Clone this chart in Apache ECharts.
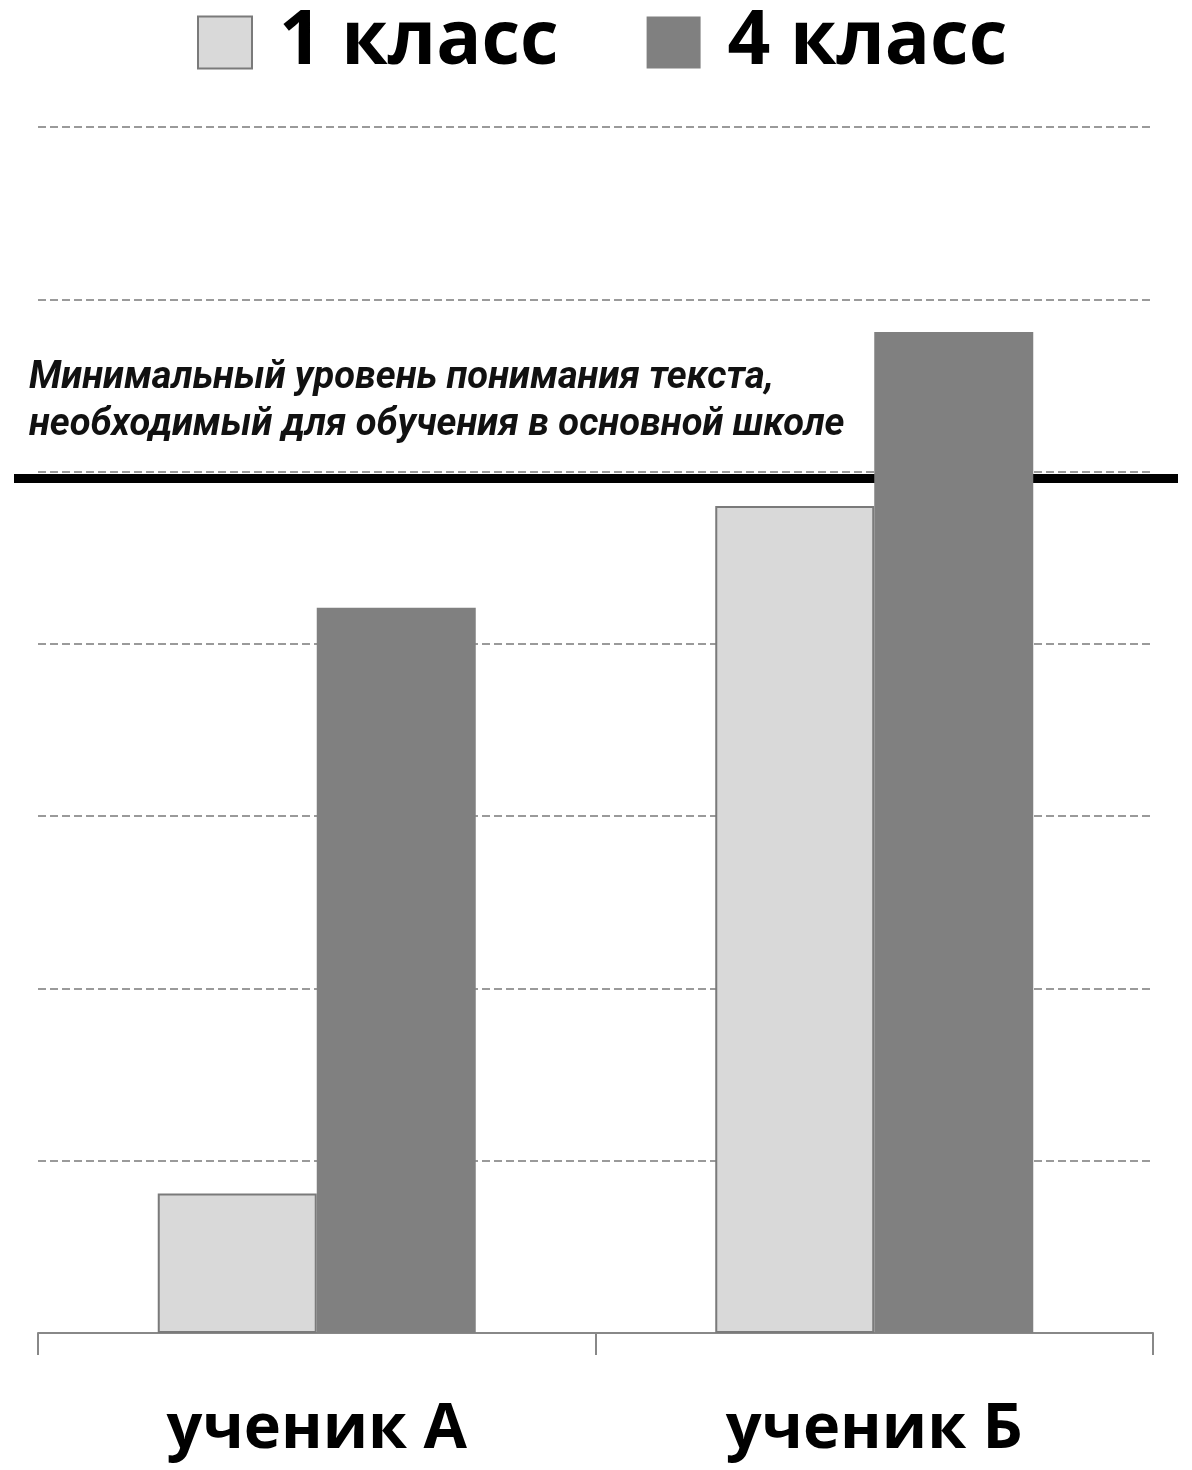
<!DOCTYPE html>
<html><head><meta charset="utf-8">
<script src="https://cdn.jsdelivr.net/npm/echarts@6/dist/echarts.min.js"></script>
<style>html,body{margin:0;padding:0;background:#fff}#c{width:1192px;height:1470px}</style>
</head><body><div id="c"></div>
<script>
const categories = ['ученик А', 'ученик Б'];
const seriesNames = ['1 класс', '4 класс'];
const grade1 = [0.81, 4.8];
const grade4 = [4.21, 5.81];
const thresholdValue = 4.96;
const thresholdText = 'Минимальный уровень понимания текста,\nнеобходимый для обучения в основной школе';
const yMin = 0, yMax = 7, yStep = 1;

const chart = echarts.init(document.getElementById('c'));
const gridTop = 127, gridBottom = 137;
chart.setOption({
  animation: false,
  backgroundColor: '#fff',
  title: {
    text: thresholdText,
    left: 24, top: 350,
    textStyle: { fontFamily: 'Roboto', fontStyle: 'italic', fontWeight: 'bold', fontSize: 38, color: '#111', lineHeight: 47 }
  },
  legend: {
    top: 0, left: 192,
    itemWidth: 54, itemHeight: 52, itemGap: 88,
    icon: 'rect',
    textStyle: { fontFamily: 'Open Sans', fontWeight: 'bold', fontSize: 75, color: '#000', padding: [0, 0, 0, 22] },
    data: seriesNames
  },
  grid: [
    { left: 38, right: 39, top: gridTop, bottom: gridBottom },
    { left: 14, right: 14, top: gridTop, bottom: gridBottom }
  ],
  xAxis: [
    {
      type: 'category', data: categories, gridIndex: 0,
      axisLine: { lineStyle: { color: '#888', width: 2 } },
      axisTick: { show: true, alignWithLabel: false, length: 22, lineStyle: { color: '#888', width: 2 } },
      axisLabel: { fontFamily: 'Open Sans', fontWeight: 'bold', fontSize: 63, color: '#000', margin: 66 }
    },
    { type: 'value', gridIndex: 1, min: 0, max: 1, show: false }
  ],
  yAxis: [
    {
      type: 'value', gridIndex: 0, min: yMin, max: yMax, interval: yStep,
      axisLabel: { show: false }, axisLine: { show: false }, axisTick: { show: false },
      splitLine: { lineStyle: { color: '#9a9a9a', width: 2, type: [8, 4] } }
    },
    { type: 'value', gridIndex: 1, min: yMin, max: yMax, show: false }
  ],
  series: [
    {
      name: 'threshold', type: 'line', xAxisIndex: 1, yAxisIndex: 1, z: 1,
      symbol: 'none', silent: true,
      lineStyle: { color: '#000', width: 9 },
      data: [[0, thresholdValue], [1, thresholdValue]]
    },
    {
      name: seriesNames[0], type: 'bar', xAxisIndex: 0, yAxisIndex: 0, z: 3,
      barWidth: 159, barGap: '0%',
      itemStyle: { color: '#d9d9d9', borderColor: '#7a7a7a', borderWidth: 2 },
      data: grade1
    },
    {
      name: seriesNames[1], type: 'bar', xAxisIndex: 0, yAxisIndex: 0, z: 3,
      barWidth: 159, barGap: '0%',
      itemStyle: { color: '#808080' },
      data: grade4
    }
  ]
});
</script></body></html>
